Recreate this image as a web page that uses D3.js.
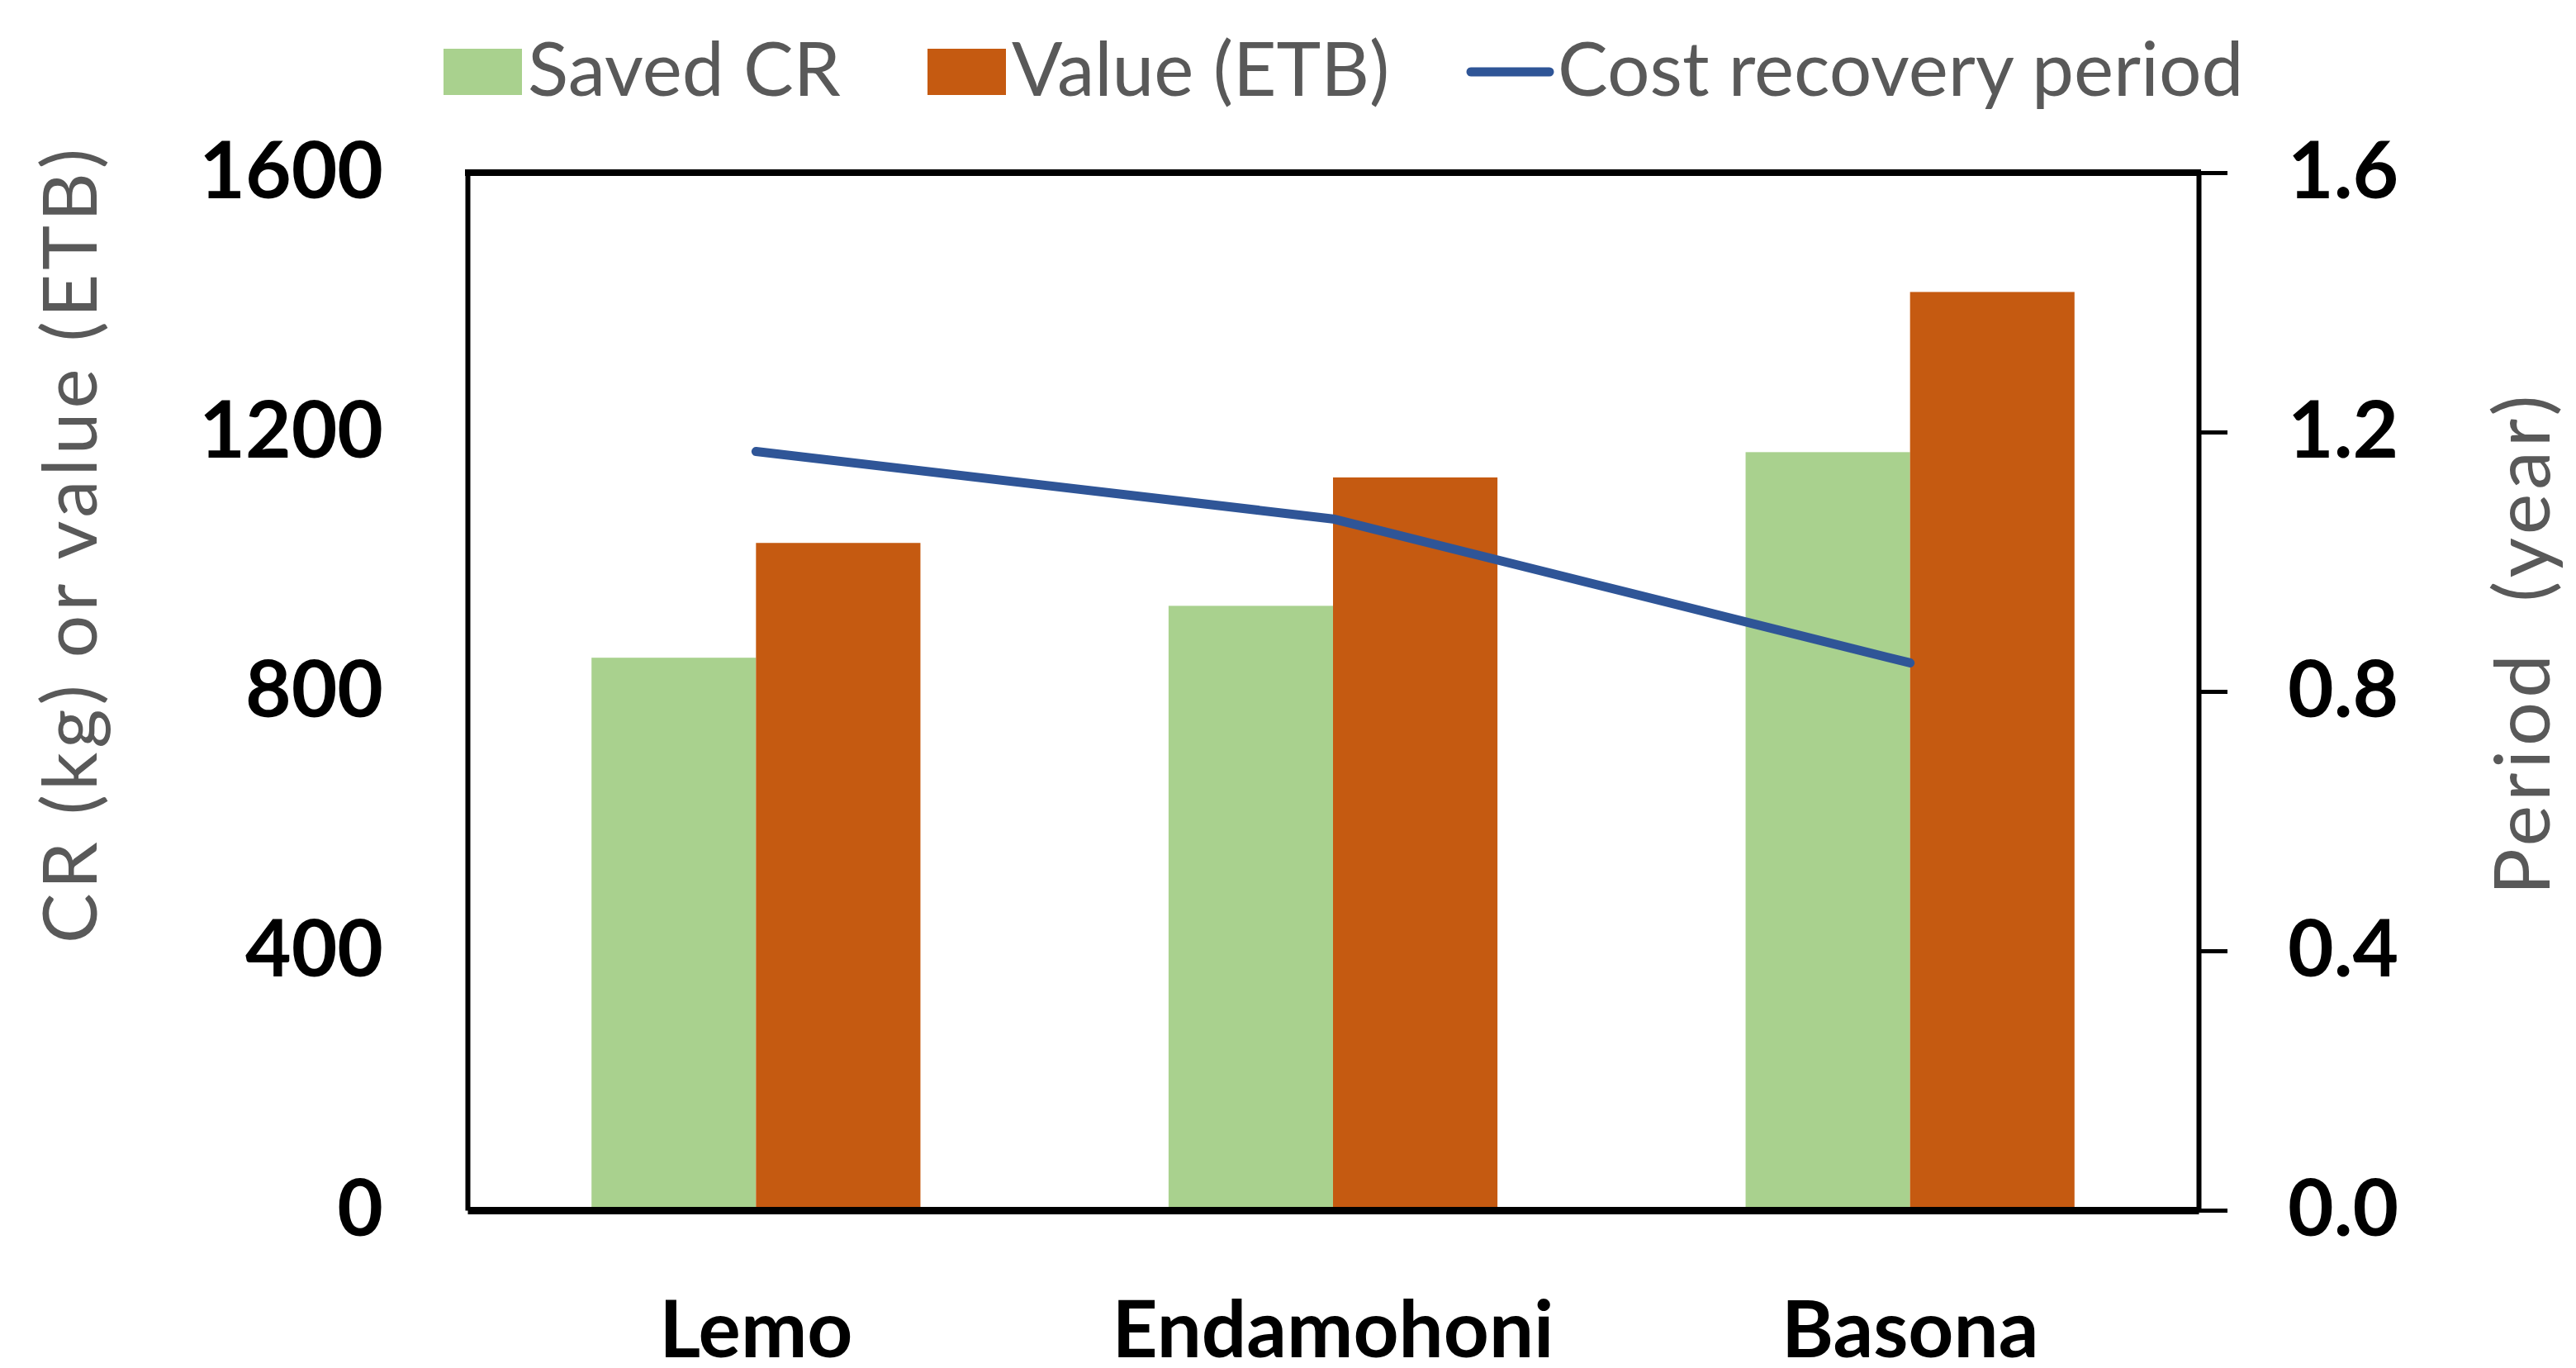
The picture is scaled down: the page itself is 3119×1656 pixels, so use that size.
<!DOCTYPE html>
<html lang="en">
  <head>
    <meta charset="UTF-8" />
    <title>Saved CR and cost recovery period</title>
    <script src="https://cdn.jsdelivr.net/npm/d3@7"></script>
    <style>
      html, body { margin: 0; padding: 0; background: #fff; }
      #svgBox { display: block; }
    </style>
  </head>
  <body>
    <svg id="svgBox"></svg>
  </body>
  <script>
    // data
    const categories = ['Lemo', 'Endamohoni', 'Basona']
    const savedCR = [852, 932, 1169]
    const valueETB = [1029, 1130, 1416]
    const period = [1.17, 1.066, 0.844]
    const leftTicks = [0, 400, 800, 1200, 1600]
    const rightTicks = [0, 0.4, 0.8, 1.2, 1.6]
    const seriesNames = ['Saved CR', 'Value (ETB)', 'Cost recovery period']

    const colors = { green: '#A9D18E', orange: '#C55A11', blue: '#2F5597', gray: '#595959' }
    const font = 'Lato, "Open Sans", sans-serif'

    const width = 3119
    const height = 1656
    const margin = { top: 209, right: 457, bottom: 191, left: 566 }
    const innerWidth = width - margin.left - margin.right
    const innerHeight = height - margin.top - margin.bottom

    const svg = d3.select('#svgBox').attr('width', width).attr('height', height)
    const g = svg.append('g').attr('transform', `translate(${margin.left} ${margin.top})`)

    // scales
    const x0 = d3.scaleBand().domain(categories).range([0, innerWidth])
      .paddingInner(0.43).paddingOuter(0.215)
    const x1 = d3.scaleBand().domain(['savedCR', 'valueETB']).range([0, x0.bandwidth()])
    const yLeft = d3.scaleLinear().domain([0, 1600]).range([innerHeight, 0])
    const yRight = d3.scaleLinear().domain([0, 1.6]).range([innerHeight, 0])

    const rows = categories.map((c, i) => ({
      name: c, savedCR: savedCR[i], valueETB: valueETB[i], period: period[i]
    }))

    // bars
    const barColor = { savedCR: colors.green, valueETB: colors.orange }
    g.append('g').selectAll('g')
      .data(rows).join('g')
      .attr('transform', d => `translate(${x0(d.name)} 0)`)
      .selectAll('rect')
      .data(d => ['savedCR', 'valueETB'].map(k => ({ key: k, value: d[k] })))
      .join('rect')
      .attr('x', d => x1(d.key))
      .attr('width', x1.bandwidth())
      .attr('y', d => yLeft(d.value))
      .attr('height', d => innerHeight - yLeft(d.value))
      .attr('fill', d => barColor[d.key])

    // line on the right axis
    const line = d3.line()
      .x(d => x0(d.name) + x0.bandwidth() / 2)
      .y(d => yRight(d.period))
    g.append('path')
      .datum(rows)
      .attr('d', line)
      .attr('fill', 'none')
      .attr('stroke', colors.blue)
      .attr('stroke-width', 11)
      .attr('stroke-linecap', 'round')
      .attr('stroke-linejoin', 'round')

    // left axis: no ticks, bold labels
    const leftAxis = g.append('g')
      .call(d3.axisLeft(yLeft).tickValues(leftTicks).tickSize(0).tickPadding(102).tickFormat(d3.format('d')))
    leftAxis.select('.domain').attr('stroke', '#000').attr('stroke-width', 6)

    // right axis: outside ticks
    const rightAxis = g.append('g')
      .attr('transform', `translate(${innerWidth} 0)`)
      .call(d3.axisRight(yRight).tickValues(rightTicks).tickSize(35).tickSizeOuter(0).tickPadding(73).tickFormat(d3.format('.1f')))
    rightAxis.select('.domain').attr('stroke', '#000').attr('stroke-width', 6)
    rightAxis.selectAll('.tick line').attr('stroke', '#000').attr('stroke-width', 5)

    // top border
    g.append('line')
      .attr('x1', -3).attr('x2', innerWidth + 3)
      .attr('y1', 0).attr('y2', 0)
      .attr('stroke', '#000').attr('stroke-width', 8)

    // bottom axis
    const bottomAxis = g.append('g')
      .attr('transform', `translate(0 ${innerHeight})`)
      .call(d3.axisBottom(x0).tickSize(0).tickPadding(110))
    bottomAxis.select('.domain').attr('stroke', '#000').attr('stroke-width', 9)

    ;[leftAxis, rightAxis, bottomAxis].forEach(a => {
      a.attr('font-family', font).attr('font-size', 96).attr('font-weight', 'bold')
      a.selectAll('.tick text').attr('fill', '#000')
    })
    bottomAxis.selectAll('.tick text').attr('dy', '0.71em')

    // axis titles (spaced out like the original)
    svg.append('text')
      .attr('transform', 'translate(117 661) rotate(-90)')
      .attr('text-anchor', 'middle')
      .attr('font-family', font)
      .attr('font-size', 91)
      .attr('fill', colors.gray)
      .attr('textLength', 962)
      .attr('lengthAdjust', 'spacing')
      .text('CR (kg) or value (ETB)')
    svg.append('text')
      .attr('transform', 'translate(3087 781) rotate(-90)')
      .attr('text-anchor', 'middle')
      .attr('font-family', font)
      .attr('font-size', 94)
      .attr('fill', colors.gray)
      .attr('textLength', 605)
      .attr('lengthAdjust', 'spacing')
      .style('white-space', 'pre')
      .text('Period  (year)')

    // legend
    const legendX = [537, 1123, 1776]
    const legendY = 87
    const legend = svg.append('g')
    seriesNames.forEach((name, i) => {
      const item = legend.append('g').attr('transform', `translate(${legendX[i]} ${legendY})`)
      if (i < 2) {
        item.append('rect')
          .attr('x', 0).attr('y', -28)
          .attr('width', 95).attr('height', 56)
          .attr('fill', i === 0 ? colors.green : colors.orange)
      } else {
        item.append('line')
          .attr('x1', 5).attr('x2', 100)
          .attr('stroke', colors.blue)
          .attr('stroke-width', 11)
          .attr('stroke-linecap', 'round')
      }
      item.append('text')
        .attr('x', i < 2 ? 102 : 110)
        .attr('y', 29)
        .attr('font-family', font)
        .attr('font-size', 91)
        .attr('fill', colors.gray)
        .text(name)
    })
  </script>
</html>
